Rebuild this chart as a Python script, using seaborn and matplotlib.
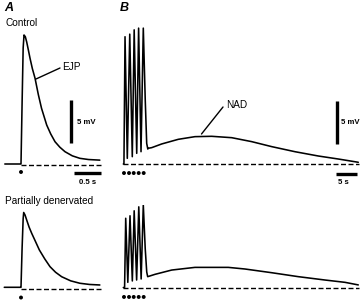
import matplotlib
matplotlib.use("Agg")
import matplotlib.pyplot as plt
from matplotlib.lines import Line2D
import seaborn as sns
import pandas as pd

sns.set_theme(style="white")
plt.rcParams['font.family'] = ['Liberation Sans', 'DejaVu Sans']

# ---------------- data (time in s, potential in mV) ----------------
# Panel A, control EJP
a_ctrl_t = [-0.30, -0.02, 0.0, 0.02, 0.04, 0.056, 0.08, 0.105, 0.135, 0.167, 0.21, 0.26,
            0.32, 0.38, 0.476, 0.55, 0.63, 0.72, 0.815, 0.95, 1.09, 1.25, 1.46]
a_ctrl_v = [0.0, 0.0, 0.0, 7.0, 13.5, 15.0, 14.8, 14.2, 13.3, 12.3, 11.1, 9.97,
            8.1, 6.48, 4.53, 3.5, 2.59, 1.95, 1.43, 0.95, 0.66, 0.52, 0.45]
# Panel A, partially denervated EJP
a_den_t = [-0.31, -0.02, 0.0, 0.02, 0.04, 0.05, 0.075, 0.105, 0.15, 0.198, 0.27, 0.34,
           0.44, 0.537, 0.64, 0.753, 0.92, 1.09, 1.27, 1.46]
a_den_v = [0.0, 0.0, 0.0, 4.5, 8.0, 8.7, 8.4, 7.83, 7.0, 6.28, 5.3, 4.34,
           3.3, 2.4, 1.75, 1.23, 0.75, 0.47, 0.33, 0.27]
a_stim = [0.0]

# Panel B, control: 5 EJPs followed by the NAD
b_ctrl_t = [0.0, 0.15, 0.4, 0.93, 1.5, 2.09, 2.53, 3.12, 3.56, 4.12, 4.65, 5.1, 5.44, 5.7,
            5.81, 6.6, 8.93, 12.79, 16.67, 20.56, 25.21, 29.86, 34.51, 39.93, 45.35, 50.0, 54.65]
b_ctrl_v = [0.0, 0.0, 14.8, 0.66, 15.1, 0.85, 15.6, 1.24, 15.8, 1.43, 15.8, 7.5, 2.4, 1.74,
            1.83, 1.9, 2.33, 2.87, 3.18, 3.22, 3.06, 2.6, 2.02, 1.43, 0.93, 0.58, 0.2]
# Panel B, partially denervated
b_den_t = [0.0, 0.3, 0.56, 1.05, 1.56, 2.1, 2.53, 3.1, 3.6, 4.15, 4.65, 5.1, 5.45, 5.67,
           7.37, 11.26, 16.67, 24.42, 28.3, 34.51, 40.7, 46.91, 51.56, 54.65]
b_den_v = [0.0, 0.0, 8.05, 0.6, 8.34, 0.76, 8.92, 0.87, 9.38, 0.99, 9.59, 4.5, 1.8, 1.26,
           1.53, 2.03, 2.34, 2.34, 2.15, 1.72, 1.26, 0.87, 0.6, 0.3]
b_stim = [0.16, 1.33, 2.42, 3.58, 4.74]

panel_labels = ["A", "B"]
row_labels = ["Control", "Partially denervated"]
trace_labels = ["EJP", "NAD"]
scale_v_label = "5 mV"
scale_t_labels = ["0.5 s", "5 s"]

# ---------------- layout (pixel geometry) ----------------
W, H = 360, 301
fig = plt.figure(figsize=(W / 100, H / 100), dpi=100)
fig.patch.set_facecolor("white")


def make_ax(x0, x1, y0, y1, xref, sx, yref, sy):
    ax = fig.add_axes([x0 / W, 1 - y1 / H, (x1 - x0) / W, (y1 - y0) / H])
    ax.set_xlim((x0 - xref) / sx, (x1 - xref) / sx)
    ax.set_ylim((yref - y1) / sy, (yref - y0) / sy)
    ax.set_axis_off()
    return ax


SY = 8.6
axA1 = make_ax(0, 115, 25, 182, 21, 54.0, 164.0, SY)
axA2 = make_ax(0, 115, 205, 301, 21, 54.0, 287.3, SY)
axB1 = make_ax(115, 360, 25, 182, 123.3, 4.3, 164.0, SY)
axB2 = make_ax(115, 360, 205, 301, 123.3, 4.3, 287.5, SY)

LW = 1.15
DASH = (3.6, 1.8)


def trace(ax, t, v):
    df = pd.DataFrame({"t": t, "v": v})
    sns.lineplot(data=df, x="t", y="v", ax=ax, color="black", lw=LW,
                 estimator=None, sort=False, legend=False)
    ax.set_axis_off()


def dashed(ax, t0, t1, v0=0.0):
    ax.plot([t0, t1], [v0, v0], color="black", lw=1.0, dashes=DASH, clip_on=False)


def dots(ax, ts, v):
    sns.scatterplot(x=ts, y=[v] * len(ts), ax=ax, color="black", s=8,
                    edgecolor="none", legend=False)
    ax.set_axis_off()


trace(axA1, a_ctrl_t, a_ctrl_v)
trace(axA2, a_den_t, a_den_v)
trace(axB1, b_ctrl_t, b_ctrl_v)
trace(axB2, b_den_t, b_den_v)

dashed(axA1, 0.0, 1.49, -0.1)
dashed(axA2, 0.0, 1.49, -0.2)
dashed(axB1, 0.0, 54.7, -0.05)
dashed(axB2, 0.0, 54.7, -0.05)

dots(axA1, a_stim, -0.93)
dots(axA2, a_stim, -1.19)
dots(axB1, b_stim, -1.05)
dots(axB2, b_stim, -1.1)

# scale bars
SB = 2.4
axA1.plot([0.926, 0.926], [2.44, 7.44], color="black", lw=SB, solid_capstyle="butt")
axA1.plot([0.98, 1.48], [-1.05, -1.05], color="black", lw=SB, solid_capstyle="butt")
axB1.plot([49.7, 49.7], [2.38, 7.38], color="black", lw=SB, solid_capstyle="butt")
axB1.plot([49.4, 54.4], [-1.13, -1.13], color="black", lw=SB, solid_capstyle="butt")


def ftext(x, y, s, size, **kw):
    fig.text(x / W, 1 - y / H, s, fontsize=size, color="black", va="center", **kw)


def fline(x0, y0, x1, y1):
    fig.add_artist(Line2D([x0 / W, x1 / W], [1 - y0 / H, 1 - y1 / H],
                          transform=fig.transFigure, color="black", lw=1.0))


ftext(4, 8, panel_labels[0], 9, style="italic", fontweight="bold", ha="left")
ftext(120, 8, panel_labels[1], 9, style="italic", fontweight="bold", ha="left")
ftext(5, 23.5, row_labels[0], 7.2, ha="left")
ftext(5, 200.5, row_labels[1], 7.2, ha="left")
ftext(62, 67, trace_labels[0], 7.2, ha="left")
ftext(226, 105, trace_labels[1], 7.2, ha="left")
fline(36, 79, 60, 68)
fline(201.5, 134, 223, 107)
ftext(77, 122, scale_v_label, 5.6, fontweight="bold", ha="left")
ftext(341, 122, scale_v_label, 5.6, fontweight="bold", ha="left")
ftext(79, 183, scale_t_labels[0], 5.6, fontweight="bold", ha="left")
ftext(338, 182, scale_t_labels[1], 5.6, fontweight="bold", ha="left")

fig.savefig("out.png", dpi=100, facecolor="white")
